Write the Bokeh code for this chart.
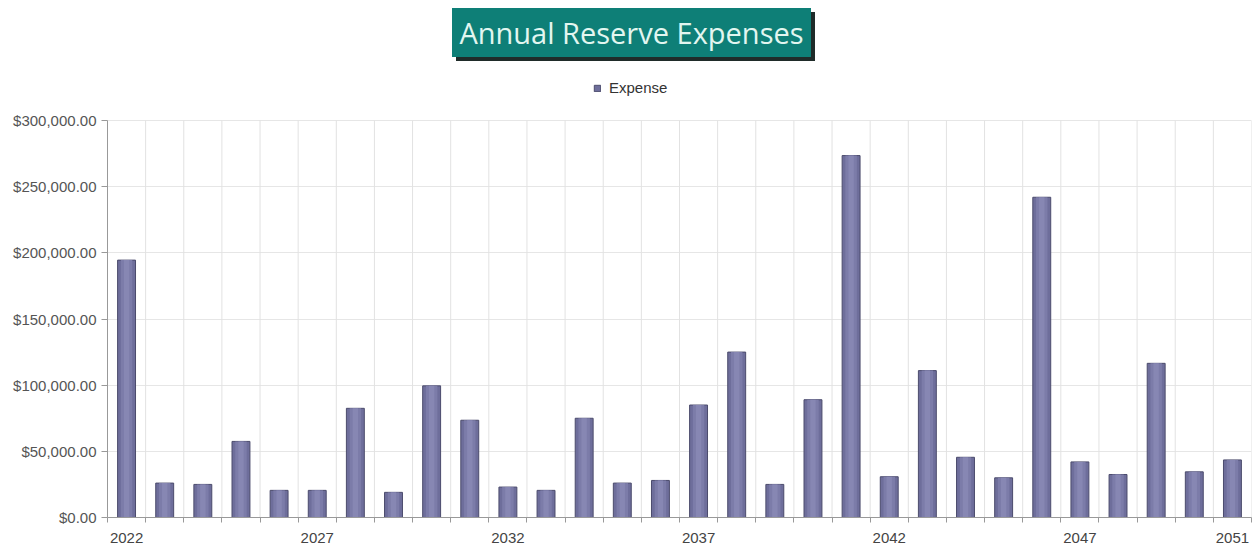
from bokeh.plotting import figure
from bokeh.models import (Range1d, FixedTicker, NumeralTickFormatter, Legend, LegendItem, Div)
from bokeh.layouts import column
from bokeh.embed import file_html
from bokeh.resources import INLINE

title_text = "Annual Reserve Expenses"
series_name = "Expense"
years = list(range(2022, 2052))
expenses = [194500, 26000, 25000, 57500, 20500, 20500, 82500, 19000, 99500, 73500,
            23000, 20500, 75000, 26000, 28000, 85000, 125000, 25000, 89000, 273500,
            30800, 111000, 45500, 30000, 242000, 42000, 32500, 116500, 34500, 43500]
label_years = [2022, 2027, 2032, 2037, 2042, 2047, 2051]
y_ticks = [0, 50000, 100000, 150000, 200000, 250000, 300000]

title_div = Div(
    text=(
        '<div style="width:1257px;display:flex;justify-content:center;padding-top:8px;">'
        '<div style="background:#0e7f77;color:#e2f6f0;font-family:\'Open Sans\';font-size:29px;'
        'height:49px;line-height:49px;padding:0 7px;margin-left:6px;'
        'box-shadow:4px 4px 0 #1f2b29;">' + title_text + '</div></div>'
    ),
    width=1257, height=62, margin=(0, 0, 0, 0),
)

# plot area: value axis spans 397 px; extra 50 px above it hosts the legend
axis_px = 397
extra_px = 50
y_end = y_ticks[-1] * (axis_px + extra_px) / axis_px

p = figure(width=1257, height=484, output_backend="svg", toolbar_location=None,
           x_range=Range1d(years[0] - 0.5, years[-1] + 0.5),
           y_range=Range1d(y_ticks[0], y_end),
           min_border_left=107, min_border_right=6, min_border_top=8, min_border_bottom=29,
           margin=(0, 0, 0, 0))
p.outline_line_color = None
p.background_fill_color = "white"
p.border_fill_color = "white"

bounds = [y - 0.5 for y in years] + [years[-1] + 0.5]

# vertical grid lines limited to the value range
p.segment(x0=bounds, y0=[y_ticks[0]] * len(bounds), x1=bounds, y1=[y_ticks[-1]] * len(bounds),
          line_color="#e2e2e2", line_width=1)

base = p.vbar(x=years, top=expenses, width=0.47, bottom=0,
              fill_color="#6e6e9b", line_color="#4b4b6c", line_width=1)
p.vbar(x=years, top=expenses, width=0.30, bottom=0,
       fill_color="#7c7ca9", line_color=None)
p.vbar(x=years, top=expenses, width=0.14, bottom=0,
       fill_color="#8787b3", line_color=None)

xa = p.xaxis[0]
xa.ticker = FixedTicker(ticks=label_years, minor_ticks=bounds)
xa.major_label_overrides = {y: str(y) for y in label_years}
xa.major_tick_out = 0
xa.major_tick_in = 0
xa.minor_tick_out = 5
xa.minor_tick_in = 0
xa.minor_tick_line_color = "#999999"
xa.axis_line_color = "#999999"
xa.major_label_standoff = 10
xa.major_label_text_font = "Liberation Sans"
xa.major_label_text_font_size = "15px"
xa.major_label_text_color = "#444444"

ya = p.yaxis[0]
ya.ticker = FixedTicker(ticks=y_ticks)
ya.bounds = (y_ticks[0], y_ticks[-1])
ya.formatter = NumeralTickFormatter(format="$0,0.00")
ya.major_tick_out = 6
ya.major_tick_in = 0
ya.minor_tick_out = 0
ya.minor_tick_in = 0
ya.major_tick_line_color = "#999999"
ya.axis_line_color = "#999999"
ya.major_label_standoff = 5
ya.major_label_text_font = "Liberation Sans"
ya.major_label_text_font_size = "15px"
ya.major_label_text_color = "#555555"

p.xgrid.visible = False
p.ygrid.ticker = FixedTicker(ticks=y_ticks)
p.ygrid.grid_line_color = "#e6e6e6"

legend = Legend(items=[LegendItem(label=series_name, renderers=[base])],
                location=(486, 421), orientation="horizontal",
                glyph_width=8, glyph_height=8, label_height=14,
                label_standoff=8, padding=0, margin=0, spacing=0,
                border_line_color=None, background_fill_alpha=0,
                label_text_font="Liberation Sans", label_text_font_size="15px",
                label_text_color="#333333")
p.add_layout(legend, "center")

layout = column(title_div, p, spacing=0, margin=(0, 0, 0, 0))
open("out.html", "w").write(file_html(layout, INLINE))
